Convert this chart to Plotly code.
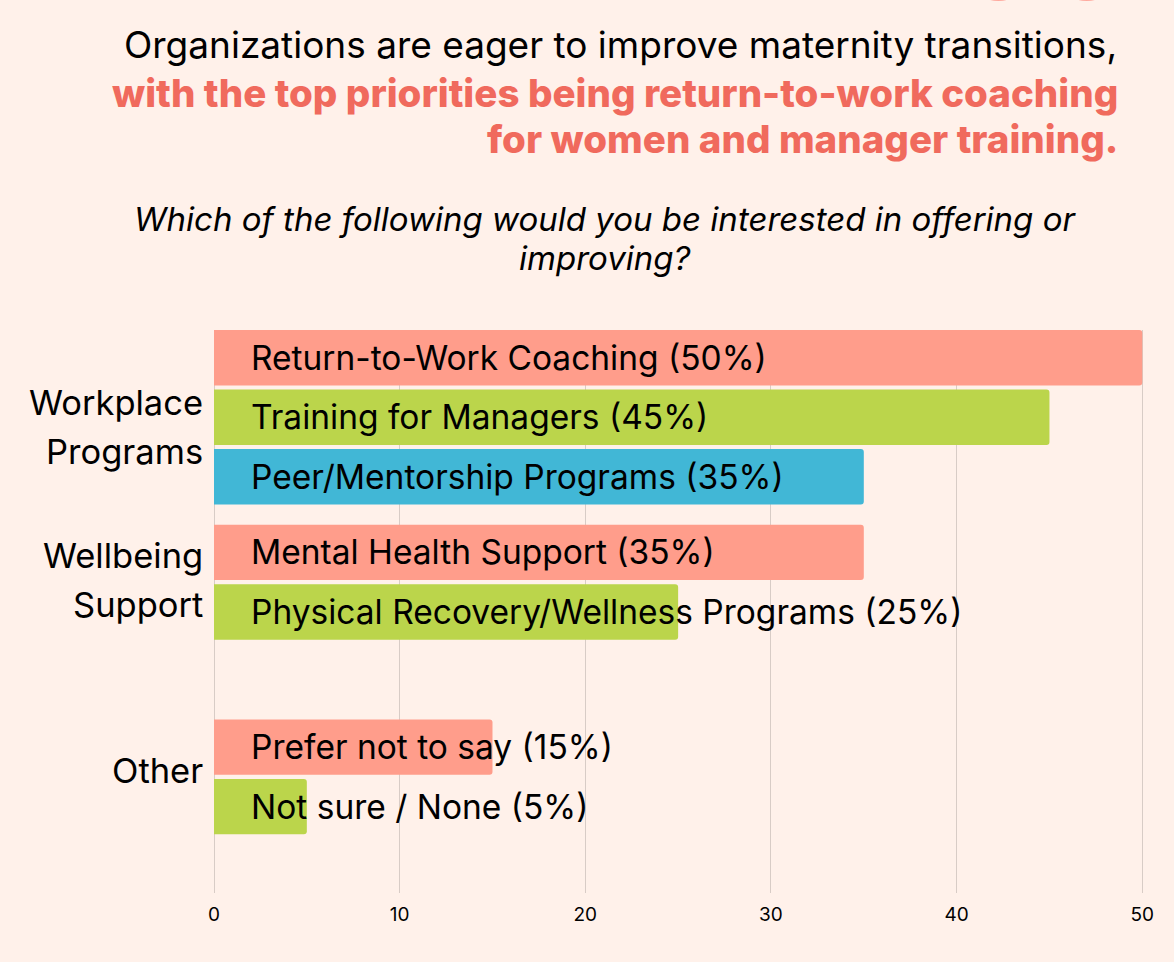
import plotly.graph_objects as go

# ---------------- data ----------------
groups = [["Workplace", "Programs"], ["Wellbeing", "Support"], ["Other"]]
items = [
    ["Return-to-Work Coaching", "Training for Managers", "Peer/Mentorship Programs"],
    ["Mental Health Support", "Physical Recovery/Wellness Programs"],
    ["Prefer not to say", "Not sure / None"],
]
values = [
    [50, 45, 35],
    [35, 25],
    [15, 5],
]
bar_colors = [
    ["#FF9D8B", "#BBD54B", "#41B7D6"],
    ["#FF9D8B", "#BBD54B"],
    ["#FF9D8B", "#BBD54B"],
]
x_ticks = [0, 10, 20, 30, 40, 50]

title_big = "INTERESTS"
headline_1 = "Organizations are eager to improve maternity transitions,"
headline_2 = ["with the top priorities being return-to-work coaching",
              "for women and manager training."]
question = ["Which of the following would you be interested in offering or",
            "improving?"]

# ---------------- layout helpers ----------------
group_gaps = [0.0, 0.27, 1.27]   # extra vertical spacing before each group
group_line_shifts = [[14.5, -34], [27, -22.5], [6]]  # px offsets of label lines
BG = "#FFF1EA"
CORAL_TEXT = "#F06A5D"
FONT = "Inter"

ys, xs, cols, labels, group_centers = [], [], [], [], []
pos = 0.0
for g, (its, vals, cs) in enumerate(zip(items, values, bar_colors)):
    pos += group_gaps[g]
    start = pos
    for it, v, c in zip(its, vals, cs):
        ys.append(pos)
        xs.append(v)
        cols.append(c)
        labels.append(f"{it} ({v}%)")
        pos += 1
    group_centers.append((start + pos - 1) / 2)

fig = go.Figure()
fig.add_trace(go.Bar(
    x=xs, y=ys, orientation="h", width=0.93,
    marker=dict(color=cols, line=dict(width=0)),
    hoverinfo="skip", showlegend=False,
))

W, H = 1174, 962
ML, MR, MT, MB = 214, 28, 330, 69
pw, ph = W - ML - MR, H - MT - MB


def px_to_paper(px_x, px_y):
    return (px_x - ML) / pw, (H - MB - px_y) / ph


annotations = []
for y, lab in zip(ys, labels):
    annotations.append(dict(
        x=0, y=y, xref="x", yref="y", text=lab, showarrow=False,
        xanchor="left", yanchor="middle", xshift=35,
        font=dict(family=FONT, size=33.5, color="black"),
    ))
for gc, lines, shifts in zip(group_centers, groups, group_line_shifts):
    for line, sh in zip(lines, shifts):
        annotations.append(dict(
            x=0, y=gc, xref="paper", yref="y", text=line, showarrow=False,
            xanchor="right", yanchor="middle", align="right", xshift=-9, yshift=sh,
            font=dict(family=FONT, size=34.5, color="black"),
        ))

bx, by = px_to_paper(1110, 2)
annotations.append(dict(
    x=bx, y=by, xref="paper", yref="paper", text=title_big,
    showarrow=False, xanchor="right", yanchor="bottom", yshift=-16,
    font=dict(family=FONT, size=66, color="#FFA99E", weight=800),
))
hx, hy = px_to_paper(1119, 45)
annotations.append(dict(
    x=hx, y=hy, xref="paper", yref="paper", text=headline_1,
    showarrow=False, xanchor="right", yanchor="middle", align="right",
    font=dict(family=FONT, size=37, color="black"),
))
for line, py in zip(headline_2, [93.5, 139]):
    lx, ly = px_to_paper(1120, py)
    annotations.append(dict(
        x=lx, y=ly, xref="paper", yref="paper", text=line,
        showarrow=False, xanchor="right", yanchor="middle", align="right",
        font=dict(family=FONT, size=38.5, color=CORAL_TEXT, weight=800),
    ))
for line, py in zip(question, [219, 258]):
    qx, qy = px_to_paper(605, py)
    annotations.append(dict(
        x=qx, y=qy, xref="paper", yref="paper", text=line,
        showarrow=False, xanchor="center", yanchor="middle", align="center",
        font=dict(family=FONT, size=33, color="black", style="italic"),
    ))

fig.update_layout(
    width=W, height=H,
    margin=dict(l=ML, r=MR, t=MT, b=MB, pad=0),
    paper_bgcolor=BG, plot_bgcolor=BG,
    barcornerradius=3,
    annotations=annotations,
    xaxis=dict(
        range=[0, 50.2], tickvals=x_ticks, showgrid=True, gridcolor="#D8CCC6",
        gridwidth=1, zeroline=True, zerolinecolor="#D8CCC6", zerolinewidth=1,
        showline=False, ticks="", ticklabelstandoff=8,
        tickfont=dict(family=FONT, size=19, color="black"),
        fixedrange=True,
    ),
    yaxis=dict(
        range=[ys[-1] + 1.45, -0.465], showticklabels=False, showgrid=False,
        zeroline=False, showline=False, ticks="", fixedrange=True,
    ),
    font=dict(family=FONT),
)

fig.write_html(
    "out.html",
    config={"displayModeBar": False},
    post_script="document.body.style.margin='0';document.body.style.background='" + BG + "';",
)
